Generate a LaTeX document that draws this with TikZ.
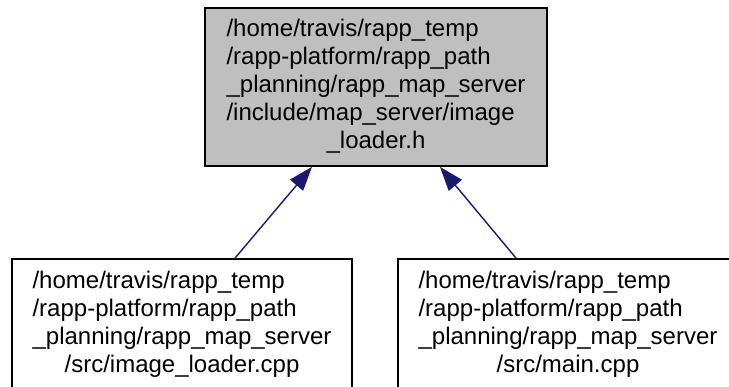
\documentclass[tikz,border=0pt]{standalone}
\usepackage{fontspec}
\setmainfont{Liberation Sans}
\usetikzlibrary{arrows.meta}
\definecolor{edgeblue}{HTML}{191970}
\definecolor{boxgray}{HTML}{BFBFBF}

\tikzset{
  filebox/.style={draw=black,line width=1.8pt,inner sep=0pt,
    font=\fontsize{24}{28}\selectfont},
  depedge/.style={edgeblue,line width=1.4pt,-{Triangle[length=24pt,width=17pt]}}
}

\begin{document}
\begin{tikzpicture}[x=1pt,y=-1pt]

  \useasboundingbox (0,0) rectangle (729,387);
  \clip (0,0) rectangle (729,387);

  % header file (graph root)
  \node[filebox,fill=boxgray,minimum width=342pt,minimum height=158pt] (header) at (376,87)
    {\begin{tabular}{@{}l@{}}
      /home/travis/rapp\_temp\\
      /rapp-platform/rapp\_path\\
      \_planning/rapp\_map\_server\\
      /include/map\_server/image\\
      \multicolumn{1}{@{}c@{}}{\_loader.h}
    \end{tabular}};

  % files including it
  \node[filebox,minimum width=340pt,minimum height=132pt] (srcloader) at (182,325)
    {\begin{tabular}{@{}l@{}}
      /home/travis/rapp\_temp\\
      /rapp-platform/rapp\_path\\
      \_planning/rapp\_map\_server\\
      \multicolumn{1}{@{}c@{}}{/src/image\_loader.cpp}
    \end{tabular}};

  \node[filebox,minimum width=340pt,minimum height=132pt] (srcmain) at (568,325)
    {\begin{tabular}{@{}l@{}}
      /home/travis/rapp\_temp\\
      /rapp-platform/rapp\_path\\
      \_planning/rapp\_map\_server\\
      \multicolumn{1}{@{}c@{}}{/src/main.cpp}
    \end{tabular}};

  % include edges
  \draw[depedge] ([xshift=53pt]srcloader.north) -- ([xshift=-64pt]header.south);
  \draw[depedge] ([xshift=-52pt]srcmain.north) -- ([xshift=64pt]header.south);

\end{tikzpicture}
\end{document}
